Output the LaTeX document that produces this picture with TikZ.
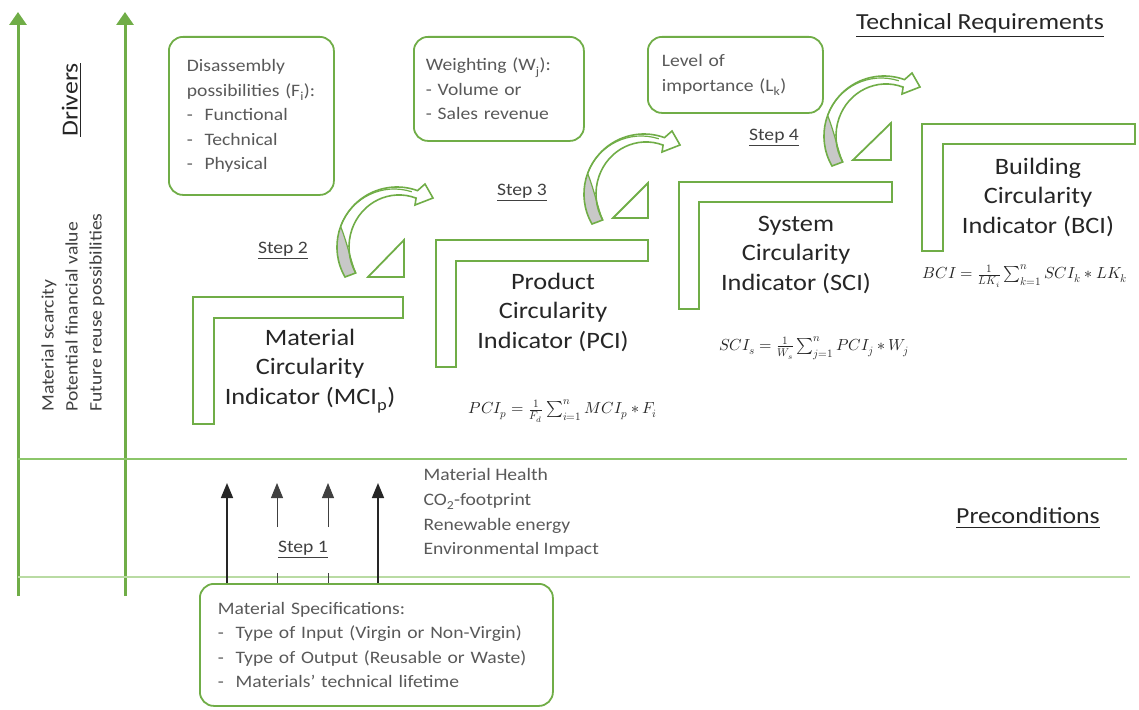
\documentclass[tikz,border=0pt]{standalone}
\usepackage{fontspec}
\usepackage{unicode-math}
\setmainfont{Carlito}[FakeStretch=1.12]
\setmathfont{Latin Modern Math}
\usetikzlibrary{arrows.meta}

\definecolor{grn}{HTML}{70AD47}
\definecolor{grnmid}{HTML}{8CC66A}
\definecolor{grnlight}{HTML}{B9DBA3}
\definecolor{txtgray}{HTML}{595959}
\definecolor{txtmid}{HTML}{404040}
\definecolor{txtdark}{HTML}{262626}
\definecolor{bandgray}{HTML}{C8C8C8}

\newcommand\lblfont{\fontsize{23.5}{29.5}\selectfont}
\newcommand\listfont{\fontsize{17.5}{24.5}\selectfont}
\newcommand\headfont{\fontsize{23}{27}\selectfont}
\newcommand\mathsz{\fontsize{16}{18}\selectfont}

% L-shaped frame: left x, top y, inner x, bar y, right x, bottom y
\newcommand\lframe[6]{%
  \draw[lframe] (#1,#6) -- (#1,#2) -- (#5,#2) -- (#5,#4) -- (#3,#4) -- (#3,#6) -- cycle;}

\tikzset{
  lframe/.style={draw=grn, line width=2pt, line join=miter},
  infobox/.style={draw=grn, line width=1.8pt, rounded corners=14pt, anchor=north west,
    align=left, text=txtgray, font=\listfont, inner ysep=0pt},
  bigtxt/.style={text=txtdark, font=\lblfont, align=center},
  steptxt/.style={text=txtmid, font=\listfont},
  headtxt/.style={text=txtdark, font=\headfont},
  formula/.style={text=txtdark, font=\mathsz},
  ramp/.style={draw=grn, line width=1.8pt, line join=miter},
  driver/.style={draw=grn, line width=3pt, -{Triangle[length=13pt,width=17pt]}},
  upthick/.style={draw=txtdark, line width=1.6pt},
  upthin/.style={draw=txtmid, line width=1pt},
  uphead/.style={-{Triangle[length=15pt,width=12pt]}},
  bend arrow/.pic={
    \path[fill=white] (0,0) arc[start angle=150,end angle=290,radius=60]
      -- (80,-93) -- (88,-79) -- (70,-72) -- (71.1,-78.9)
      arc[start angle=290,end angle=150,x radius=50,y radius=52] -- cycle;
    \fill[bandgray] (0,0) arc[start angle=150,end angle=200,radius=60]
      .. controls (2,-35) and (6,-15) .. (10.7,-4) -- cycle;
    \draw[grn, line width=1.2pt] (-4.4,-50.5) .. controls (2,-35) and (6,-15) .. (10.7,-4);
    \draw[grn, line width=1.2pt] (-4.4,-50.5) arc[start angle=200,end angle=288,radius=57];
    \draw[grn, line width=1.6pt, line join=miter] (0,0) arc[start angle=150,end angle=290,radius=60]
      -- (80,-93) -- (88,-79) -- (70,-72) -- (71.1,-78.9)
      arc[start angle=290,end angle=150,x radius=50,y radius=52] -- cycle;
  }
}

\begin{document}
\begin{tikzpicture}[x=1pt,y=-1pt]
\useasboundingbox (0,0) rectangle (1139,709);

% driver axes
\coordinate (d1b) at (18,596);   \coordinate (d1t) at (18,12);
\coordinate (d2b) at (125,596);  \coordinate (d2t) at (125,12);
\draw[driver] (d1b) -- (d1t);
\draw[driver] (d2b) -- (d2t);

% separating lines
\coordinate (s1l) at (18,459);  \coordinate (s1r) at (1127,459);
\coordinate (s2l) at (18,577);  \coordinate (s2r) at (1130,577);
\draw[grnmid, line width=1.6pt] (s1l) -- (s1r);
\draw[grnlight, line width=1.6pt] (s2l) -- (s2r);

% driver labels
\node[headtxt, rotate=90] (drivers) at (72,100) {\underline{Drivers}};
\node[rotate=90, anchor=west, align=left, text=txtmid, font=\fontsize{17.5}{24}\selectfont]
  (drvlist) at (73,415) {Material scarcity\\Potential financial value\\Future reuse possibilities};

% headings
\node[headtxt] (techreq) at (980,26) {\underline{Technical Requirements}};
\node[headtxt] (precond) at (1028,518) {\underline{Preconditions}};

% information boxes
\node[infobox, minimum width=165pt, minimum height=158pt, text width=129pt, inner xsep=18pt]
  (disbox) at (168,36) {Disassembly\\possibilities (F\textsubscript{i}):\\-~~Functional\\-~~Technical\\-~~Physical};
\node[infobox, minimum width=170pt, minimum height=104pt, text width=146pt, inner xsep=12pt]
  (wbox) at (413,36) {Weighting (W\textsubscript{j}):\\- Volume or\\- Sales revenue};
\node[infobox, minimum width=175pt, minimum height=76pt, text width=147pt, inner xsep=14pt]
  (lbox) at (647,36) {Level of\\importance (L\textsubscript{k})};
\node[infobox, minimum width=353pt, minimum height=122pt, text width=317pt, inner xsep=18pt]
  (specbox) at (199,583) {Material Specifications:\\-~~Type of Input (Virgin or Non-Virgin)\\-~~Type of Output (Reusable or Waste)\\-~~Materials’ technical lifetime};

% L-shaped indicator frames
\lframe{193}{297}{214}{318}{403}{424}
\lframe{436}{240}{456}{261}{648}{367}
\lframe{679}{182}{699}{202}{892}{309}
\lframe{922}{124}{943}{144}{1135}{251}

\node[bigtxt] (mci) at (310,371) {Material\\Circularity\\Indicator (MCI\textsubscript{p})};
\node[bigtxt] (pci) at (553,312) {Product\\Circularity\\Indicator (PCI)};
\node[bigtxt] (sci) at (796,255) {System\\Circularity\\Indicator (SCI)};
\node[bigtxt] (bci) at (1038,197) {Building\\Circularity\\Indicator (BCI)};

% formulas
\node[formula] (fpci) at (563,411) {$PCI_p=\frac{1}{F_d}\sum_{i=1}^{n} MCI_p\ast F_i$};
\node[formula] (fsci) at (814,348) {$SCI_s=\frac{1}{W_s}\sum_{j=1}^{n} PCI_j\ast W_j$};
\node[formula] (fbci) at (1025,276) {$BCI=\frac{1}{LK_i}\sum_{k=1}^{n} SCI_k\ast LK_k$};

% ramps
\draw[ramp] (368,277) -- (404,240) -- (404,277) -- cycle;
\draw[ramp] (613,218) -- (648,183) -- (648,218) -- cycle;
\draw[ramp] (853,160) -- (891,123) -- (891,160) -- cycle;

% step arrows
\pic (arr2) at (345,277) {bend arrow};
\pic (arr3) at (592,224) {bend arrow};
\pic (arr4) at (832,166) {bend arrow};

% step labels
\node[steptxt] (step2) at (283,251) {\underline{Step 2}};
\node[steptxt] (step3) at (522,193) {\underline{Step 3}};
\node[steptxt] (step4) at (774,138) {\underline{Step 4}};
\node[steptxt] (step1) at (303,550) {\underline{Step 1}};

% preconditions list
\node[anchor=west, align=left, text=txtgray, font=\fontsize{17.5}{24.7}\selectfont]
  (condlist) at (420,513) {Material Health\\CO\textsubscript{2}-footprint\\Renewable energy\\Environmental Impact};

% upward arrows from the specifications box
\coordinate (u1) at (227,483);
\coordinate (u2) at (277,483);
\coordinate (u3) at (328,483);
\coordinate (u4) at (378,483);
\coordinate (gapt) at (0,527);
\coordinate (gapb) at (0,573);
\draw[upthick, uphead] (u1 |- specbox.north) -- (u1);
\draw[upthick, uphead] (u4 |- specbox.north) -- (u4);
\draw[upthin] (u2 |- specbox.north) -- (u2 |- gapb);
\draw[upthin, uphead] (u2 |- gapt) -- (u2);
\draw[upthin] (u3 |- specbox.north) -- (u3 |- gapb);
\draw[upthin, uphead] (u3 |- gapt) -- (u3);
\end{tikzpicture}
\end{document}
